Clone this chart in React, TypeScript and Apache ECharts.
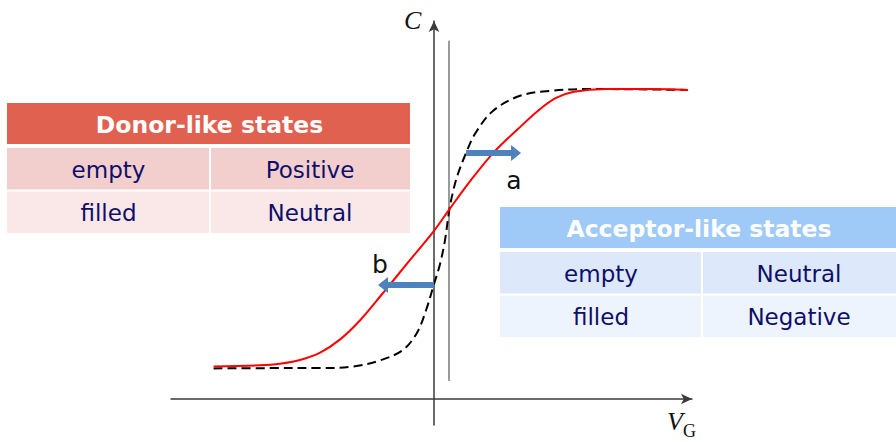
import { useEffect, useRef } from "react";
import * as echarts from "echarts";

// Gate voltage (arbitrary units) and capacitance (arbitrary units) of the two C–V curves
const redVg = [-8.38, -6.62, -5.86, -5.1, -4.33, -3.57, -2.81, -1.94, -0.91, 0, 0.57, 1.41, 2.28, 3.16, 3.99, 4.64, 5.32, 6.54, 8.21, 9.66];
const redC = [1.05, 1.09, 1.14, 1.26, 1.5, 1.93, 2.55, 3.43, 4.5, 5.44, 6.12, 7.09, 7.99, 8.71, 9.35, 9.74, 9.94, 10.03, 10.03, 10.0];
const idealVg = [-8.38, -6.35, -4.3, -3.08, -2.02, -1.18, -0.65, -0.3, 0, 0.23, 0.42, 0.57, 0.72, 0.91, 1.22, 1.56, 2.24, 3.27, 4.41, 5.93, 9.66];
const idealC = [0.99, 1.0, 1.0, 1.05, 1.26, 1.59, 2.14, 2.88, 3.72, 4.37, 5.15, 6.05, 6.7, 7.28, 7.96, 8.58, 9.32, 9.81, 9.97, 10.03, 10.0];

// Flat-band reference line
const flatBandVg = [0.57, 0.57];
const flatBandC = [0.58, 11.59];

// Shift arrows a (to the right) and b (to the left): [Vg, C] from → to
const shiftA = [[1.22, 7.96], [3.12, 7.96]];
const shiftB = [[0, 3.69], [-1.94, 3.69]];

// Tables
const donorTitle = "Donor-like states";
const donorRows = [["empty", "Positive"], ["filled", "Neutral"]];
const acceptorTitle = "Acceptor-like states";
const acceptorRows = [["empty", "Neutral"], ["filled", "Negative"]];

const TABLE_FONT = "'DejaVu Sans', 'Noto Sans', sans-serif";
const SERIF = "'Liberation Serif', 'DejaVu Serif', serif";

function buildTable(
  left: number,
  right: number,
  top: number,
  split: number,
  title: string,
  rows: string[][],
  colors: { head: string; r1: string; r2: string }
) {
  const headH = 41;
  const rowH = 41.5;
  const els: any[] = [];
  els.push({
    type: "rect",
    shape: { x: left, y: top, width: right - left, height: headH },
    style: { fill: colors.head },
  });
  els.push({
    type: "text",
    x: (left + right) / 2 + 1,
    y: top + headH / 2 + 1,
    style: {
      text: title,
      fill: "#ffffff",
      font: `bold 23.5px ${TABLE_FONT}`,
      align: "center",
      verticalAlign: "middle",
    },
  });
  rows.forEach((row, i) => {
    const y = top + headH + 4 + i * (rowH + 2);
    const fill = i === 0 ? colors.r1 : colors.r2;
    els.push({
      type: "rect",
      shape: { x: left, y, width: split - 1 - left, height: rowH },
      style: { fill },
    });
    els.push({
      type: "rect",
      shape: { x: split + 1, y, width: right - split - 1, height: rowH },
      style: { fill },
    });
    const centers = [(left + split) / 2, (split + right) / 2];
    row.forEach((cell, j) => {
      els.push({
        type: "text",
        x: centers[j],
        y: y + rowH / 2 + 1,
        style: {
          text: cell,
          fill: "#0f0f6b",
          font: `23px ${TABLE_FONT}`,
          align: "center",
          verticalAlign: "middle",
        },
      });
    });
  });
  return els;
}

export default function App() {
  const ref = useRef<HTMLDivElement>(null);

  useEffect(() => {
    if (!ref.current) return;
    const chart = echarts.init(ref.current, null, { renderer: "svg" });

    const axisLine = {
      show: true,
      onZero: true,
      symbol: ["none", "arrow"],
      symbolSize: [8, 11],
      lineStyle: { color: "#3a3a3a", width: 1.5 },
    };

    const option: any = {
      animation: false,
      backgroundColor: "#ffffff",
      grid: { left: 171, right: 204, top: 21, bottom: 17 },
      xAxis: {
        type: "value",
        min: -10,
        max: 9.81,
        axisLine,
        axisTick: { show: false },
        axisLabel: { show: false },
        splitLine: { show: false },
      },
      yAxis: {
        type: "value",
        min: -0.84,
        max: 12.23,
        axisLine,
        axisTick: { show: false },
        axisLabel: { show: false },
        splitLine: { show: false },
      },
      series: [
        {
          name: "flat band",
          type: "line",
          data: flatBandVg.map((v, i) => [v, flatBandC[i]]),
          symbol: "none",
          lineStyle: { color: "#9a9a9a", width: 2 },
          silent: true,
          z: 1,
        },
        {
          name: "ideal",
          type: "line",
          data: idealVg.map((v, i) => [v, idealC[i]]),
          smooth: 0.35,
          symbol: "none",
          lineStyle: { color: "#000000", width: 2, type: [9, 5] },
          z: 2,
        },
        {
          name: "with interface states",
          type: "line",
          data: redVg.map((v, i) => [v, redC[i]]),
          smooth: 0.35,
          symbol: "none",
          lineStyle: { color: "#ff0000", width: 2 },
          z: 3,
        },
        {
          name: "shifts",
          type: "line",
          data: [],
          z: 4,
          markLine: {
            silent: true,
            symbol: ["none", "triangle"],
            symbolSize: [16, 10],
            label: { show: false },
            lineStyle: { color: "#4f81bd", width: 6, type: "solid" },
            data: [
              [{ coord: shiftA[0] }, { coord: shiftA[1] }],
              [{ coord: shiftB[0] }, { coord: shiftB[1] }],
            ],
          },
        },
      ],
      graphic: [
        {
          type: "text",
          x: 404,
          y: 20,
          style: { text: "C", fill: "#111", font: `italic 26px ${SERIF}`, align: "left", verticalAlign: "middle" },
        },
        {
          type: "text",
          x: 667,
          y: 421,
          style: { text: "V", fill: "#111", font: `italic 26px ${SERIF}`, align: "left", verticalAlign: "middle" },
        },
        {
          type: "text",
          x: 683,
          y: 431,
          style: { text: "G", fill: "#111", font: `18px ${SERIF}`, align: "left", verticalAlign: "middle" },
        },
        {
          type: "text",
          x: 514,
          y: 180,
          style: { text: "a", fill: "#111", font: `25px ${TABLE_FONT}`, align: "center", verticalAlign: "middle" },
        },
        {
          type: "text",
          x: 380,
          y: 264,
          style: { text: "b", fill: "#111", font: `25px ${TABLE_FONT}`, align: "center", verticalAlign: "middle" },
        },
        ...buildTable(7, 410, 103, 210, donorTitle, donorRows, {
          head: "#e0614f",
          r1: "#f2cfcd",
          r2: "#f9e8e7",
        }),
        ...buildTable(500, 896, 207, 702, acceptorTitle, acceptorRows, {
          head: "#9fcaf7",
          r1: "#dde9fb",
          r2: "#eef4fd",
        }),
      ],
    };

    chart.setOption(option);
    return () => chart.dispose();
  }, []);

  return (
    <div
      ref={ref}
      style={{ position: "absolute", left: 0, top: 0, width: 896, height: 442 }}
    />
  );
}
